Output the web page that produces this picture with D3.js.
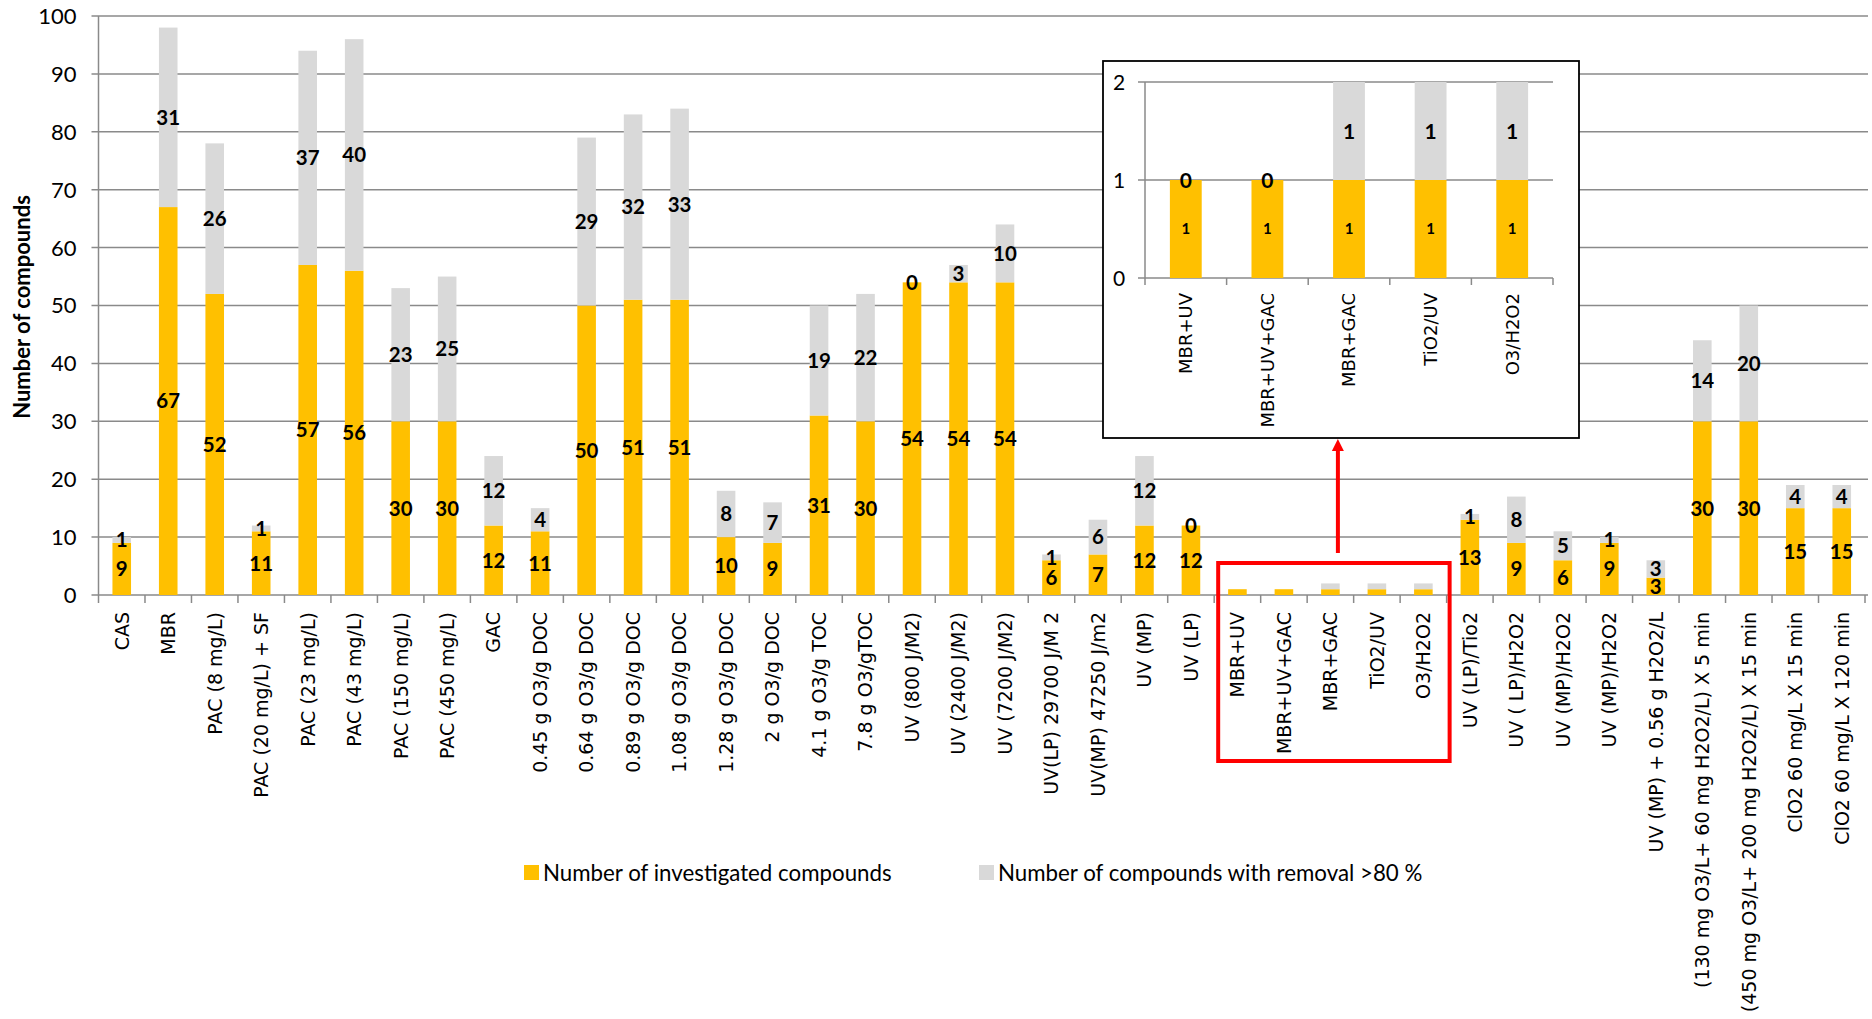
<!DOCTYPE html>
<html>
<head>
<meta charset="utf-8">
<script src="https://cdn.jsdelivr.net/npm/d3@7"></script>
<style>
  body { margin: 0; background: #ffffff; }
  svg { display: block; }
</style>
</head>
<body>
<svg id="chart" width="1872" height="1019"></svg>
<script>
// Treatment processes
const categories = [
  "CAS", "MBR", "PAC (8 mg/L)", "PAC (20 mg/L) + SF", "PAC (23 mg/L)", "PAC (43 mg/L)",
  "PAC (150 mg/L)", "PAC (450 mg/L)", "GAC", "0.45 g O3/g DOC", "0.64 g O3/g DOC",
  "0.89 g O3/g DOC", "1.08 g O3/g DOC", "1.28 g O3/g DOC", "2 g O3/g DOC",
  "4.1 g O3/g TOC", "7.8 g O3/gTOC", "UV (800 J/M2)", "UV (2400 J/M2)", "UV (7200 J/M2)",
  "UV(LP) 29700 J/M 2", "UV(MP) 47250 J/m2", "UV (MP)", "UV (LP)",
  "MBR+UV", "MBR+UV+GAC", "MBR+GAC", "TiO2/UV", "O3/H2O2",
  "UV (LP)/Tio2", "UV ( LP)/H2O2", "UV (MP)/H2O2", "UV (MP)/H2O2 ",
  "UV (MP) + 0.56 g H2O2/L", "(130 mg O3/L+ 60 mg H2O2/L) X 5 min",
  "(450 mg O3/L+ 200 mg H2O2/L) X 15 min", "ClO2 60 mg/L X 15 min", "ClO2 60 mg/L X 120 min"
];
// Number of investigated compounds
const investigated = [
  9, 67, 52, 11, 57, 56, 30, 30, 12, 11, 50, 51, 51, 10, 9, 31, 30, 54, 54, 54,
  6, 7, 12, 12, 1, 1, 1, 1, 1, 13, 9, 6, 9, 3, 30, 30, 15, 15
];
// Number of compounds with removal >80 %
const removed = [
  1, 31, 26, 1, 37, 40, 23, 25, 12, 4, 29, 32, 33, 8, 7, 19, 22, 0, 3, 10,
  1, 6, 12, 0, 0, 0, 1, 1, 1, 1, 8, 5, 1, 3, 14, 20, 4, 4
];
const yTicks = [0, 10, 20, 30, 40, 50, 60, 70, 80, 90, 100];

// Enlarged view of the combined processes
const insetCategories = ["MBR+UV", "MBR+UV+GAC", "MBR+GAC", "TiO2/UV", "O3/H2O2"];
const insetInvestigated = [1, 1, 1, 1, 1];
const insetRemoved = [0, 0, 1, 1, 1];
const insetTicks = [0, 1, 2];

const seriesNames = ["Number of investigated compounds", "Number of compounds with removal >80 %"];
const seriesColors = ["#FFC000", "#D9D9D9"];

const svg = d3.select("#chart");
const gridColor = "#8a8a8a";
const numFont = "Lato, 'Liberation Sans', sans-serif";
const catFont = "'DejaVu Sans', Verdana, sans-serif";

// ---------- main chart ----------
const plot = { left: 98.5, right: 1865, top: 16, bottom: 595 };
const x = d3.scaleBand().domain(categories).range([plot.left, plot.right])
  .paddingInner(0.6).paddingOuter(0.3);
const y = d3.scaleLinear().domain([0, 100]).range([plot.bottom, plot.top]);

// horizontal gridlines with outward ticks
svg.append("g").selectAll("line").data(yTicks).join("line")
  .attr("x1", plot.left - 7).attr("x2", plot.right + 3)
  .attr("y1", d => y(d)).attr("y2", d => y(d))
  .attr("stroke", gridColor).attr("stroke-width", 1.5);

svg.append("line")
  .attr("x1", plot.left).attr("x2", plot.left)
  .attr("y1", y(0)).attr("y2", y(100))
  .attr("stroke", gridColor).attr("stroke-width", 1.5);

svg.append("g").selectAll("text").data(yTicks).join("text")
  .attr("x", plot.left - 22).attr("y", d => y(d)).attr("dy", "0.36em")
  .attr("text-anchor", "end")
  .style("font-family", numFont).style("font-size", "22px").attr("fill", "#000")
  .text(d => d);

svg.append("text")
  .attr("transform", `translate(22,307) rotate(-90)`)
  .attr("text-anchor", "middle").attr("dy", "0.35em")
  .style("font-family", numFont).style("font-size", "22px").style("font-weight", "bold")
  .text("Number of compounds");

// category tick marks at band boundaries
const step = x.step();
const boundary = i => plot.left + i * step;
svg.append("g").selectAll("line").data(d3.range(categories.length + 1)).join("line")
  .attr("x1", boundary).attr("x2", boundary)
  .attr("y1", y(0)).attr("y2", y(0) + 8)
  .attr("stroke", gridColor).attr("stroke-width", 1.5);

// stacked bars
const rows = categories.map((c, i) => ({ cat: c, inv: investigated[i], rem: removed[i] }));
const barG = svg.append("g");
barG.selectAll("rect.inv").data(rows).join("rect").attr("class", "inv")
  .attr("x", d => x(d.cat)).attr("width", x.bandwidth())
  .attr("y", d => y(d.inv)).attr("height", d => y(0) - y(d.inv))
  .attr("fill", seriesColors[0]);
barG.selectAll("rect.rem").data(rows).join("rect").attr("class", "rem")
  .attr("x", d => x(d.cat)).attr("width", x.bandwidth())
  .attr("y", d => y(d.inv + d.rem)).attr("height", d => y(d.inv) - y(d.inv + d.rem))
  .attr("fill", seriesColors[1]);

// value labels (the combined processes are labelled in the enlarged view)
const labelled = rows.filter(d => !insetCategories.includes(d.cat));
const labelG = svg.append("g")
  .style("font-family", numFont).style("font-size", "20.5px").style("font-weight", "bold")
  .attr("text-anchor", "middle");
labelG.selectAll("text.inv").data(labelled).join("text").attr("class", "inv")
  .attr("x", d => x(d.cat) + x.bandwidth() / 2)
  .attr("y", d => y(d.inv / 2)).attr("dy", "0.36em")
  .text(d => d.inv);
labelG.selectAll("text.rem").data(labelled).join("text").attr("class", "rem")
  .attr("x", d => x(d.cat) + x.bandwidth() / 2)
  .attr("y", d => y(d.inv + d.rem / 2)).attr("dy", "0.36em")
  .text(d => d.rem);

// rotated category names
svg.append("g").selectAll("text").data(categories).join("text")
  .attr("transform", d => `translate(${x(d) + x.bandwidth() / 2},612) rotate(-90)`)
  .attr("text-anchor", "end").attr("dy", "0.36em")
  .style("font-family", catFont).style("font-size", "19px").attr("fill", "#000")
  .text(d => d.trim());

// highlight box around the combined processes
const iFirst = categories.indexOf(insetCategories[0]);
const iLast = categories.indexOf(insetCategories[insetCategories.length - 1]);
const boxL = boundary(iFirst) + 4, boxR = boundary(iLast + 1) + 3;
svg.append("rect")
  .attr("x", boxL).attr("y", 563).attr("width", boxR - boxL).attr("height", 198)
  .attr("fill", "none").attr("stroke", "#ff0000").attr("stroke-width", 4);

// arrow from the box to the enlarged view
const arrowX = (boxL + boxR) / 2 + 4;
svg.append("line")
  .attr("x1", arrowX).attr("x2", arrowX).attr("y1", 553).attr("y2", 450)
  .attr("stroke", "#ff0000").attr("stroke-width", 4);
svg.append("path")
  .attr("d", `M${arrowX - 6},451 L${arrowX + 6},451 L${arrowX},439 Z`)
  .attr("fill", "#ff0000");

// ---------- enlarged view ----------
const inset = { boxL: 1103, boxR: 1579, boxT: 61, boxB: 438, left: 1145, right: 1553, top: 82, bottom: 278 };
svg.append("rect")
  .attr("x", inset.boxL).attr("y", inset.boxT)
  .attr("width", inset.boxR - inset.boxL).attr("height", inset.boxB - inset.boxT)
  .attr("fill", "#fff").attr("stroke", "#000").attr("stroke-width", 1.8);

const xi = d3.scaleBand().domain(insetCategories).range([inset.left, inset.right])
  .paddingInner(0.61).paddingOuter(0.305);
const yi = d3.scaleLinear().domain([0, 2]).range([inset.bottom, inset.top]);

svg.append("g").selectAll("line").data(insetTicks).join("line")
  .attr("x1", inset.left - 7).attr("x2", inset.right)
  .attr("y1", d => yi(d)).attr("y2", d => yi(d))
  .attr("stroke", gridColor).attr("stroke-width", 1.5);
svg.append("line")
  .attr("x1", inset.left).attr("x2", inset.left)
  .attr("y1", yi(0)).attr("y2", yi(2))
  .attr("stroke", gridColor).attr("stroke-width", 1.5);
svg.append("g").selectAll("text").data(insetTicks).join("text")
  .attr("x", 1119).attr("y", d => yi(d)).attr("dy", "0.36em")
  .attr("text-anchor", "middle")
  .style("font-family", numFont).style("font-size", "21px")
  .text(d => d);

const istep = xi.step();
svg.append("g").selectAll("line").data(d3.range(insetCategories.length + 1)).join("line")
  .attr("x1", i => inset.left + i * istep).attr("x2", i => inset.left + i * istep)
  .attr("y1", yi(0)).attr("y2", yi(0) + 7)
  .attr("stroke", gridColor).attr("stroke-width", 1.5);

const irows = insetCategories.map((c, i) => ({ cat: c, inv: insetInvestigated[i], rem: insetRemoved[i] }));
svg.append("g").selectAll("rect").data(irows).join("rect")
  .attr("x", d => xi(d.cat)).attr("width", xi.bandwidth())
  .attr("y", d => yi(d.inv)).attr("height", d => yi(0) - yi(d.inv))
  .attr("fill", seriesColors[0]);
svg.append("g").selectAll("rect").data(irows).join("rect")
  .attr("x", d => xi(d.cat)).attr("width", xi.bandwidth())
  .attr("y", d => yi(d.inv + d.rem)).attr("height", d => yi(d.inv) - yi(d.inv + d.rem))
  .attr("fill", seriesColors[1]);

const ilab = svg.append("g").style("font-family", numFont).style("font-weight", "bold")
  .attr("text-anchor", "middle");
ilab.selectAll("text.inv").data(irows).join("text").attr("class", "inv")
  .attr("x", d => xi(d.cat) + xi.bandwidth() / 2)
  .attr("y", d => yi(d.inv / 2)).attr("dy", "0.36em")
  .style("font-size", "15px").text(d => d.inv);
ilab.selectAll("text.rem").data(irows).join("text").attr("class", "rem")
  .attr("x", d => xi(d.cat) + xi.bandwidth() / 2)
  .attr("y", d => yi(d.inv + d.rem / 2)).attr("dy", "0.36em")
  .style("font-size", "21px").text(d => d.rem);

svg.append("g").selectAll("text").data(insetCategories).join("text")
  .attr("transform", d => `translate(${xi(d) + xi.bandwidth() / 2},293) rotate(-90)`)
  .attr("text-anchor", "end").attr("dy", "0.36em")
  .style("font-family", catFont).style("font-size", "18px")
  .text(d => d);

// ---------- legend ----------
const legendItems = [
  { name: seriesNames[0], color: seriesColors[0], x: 524 },
  { name: seriesNames[1], color: seriesColors[1], x: 979 }
];
const leg = svg.append("g");
leg.selectAll("rect").data(legendItems).join("rect")
  .attr("x", d => d.x).attr("y", 865).attr("width", 15).attr("height", 15)
  .attr("fill", d => d.color);
leg.selectAll("text").data(legendItems).join("text")
  .attr("x", d => d.x + 19).attr("y", 873).attr("dy", "0.35em")
  .style("font-family", numFont).style("font-size", "22.3px")
  .text(d => d.name);
</script>
</body>
</html>
